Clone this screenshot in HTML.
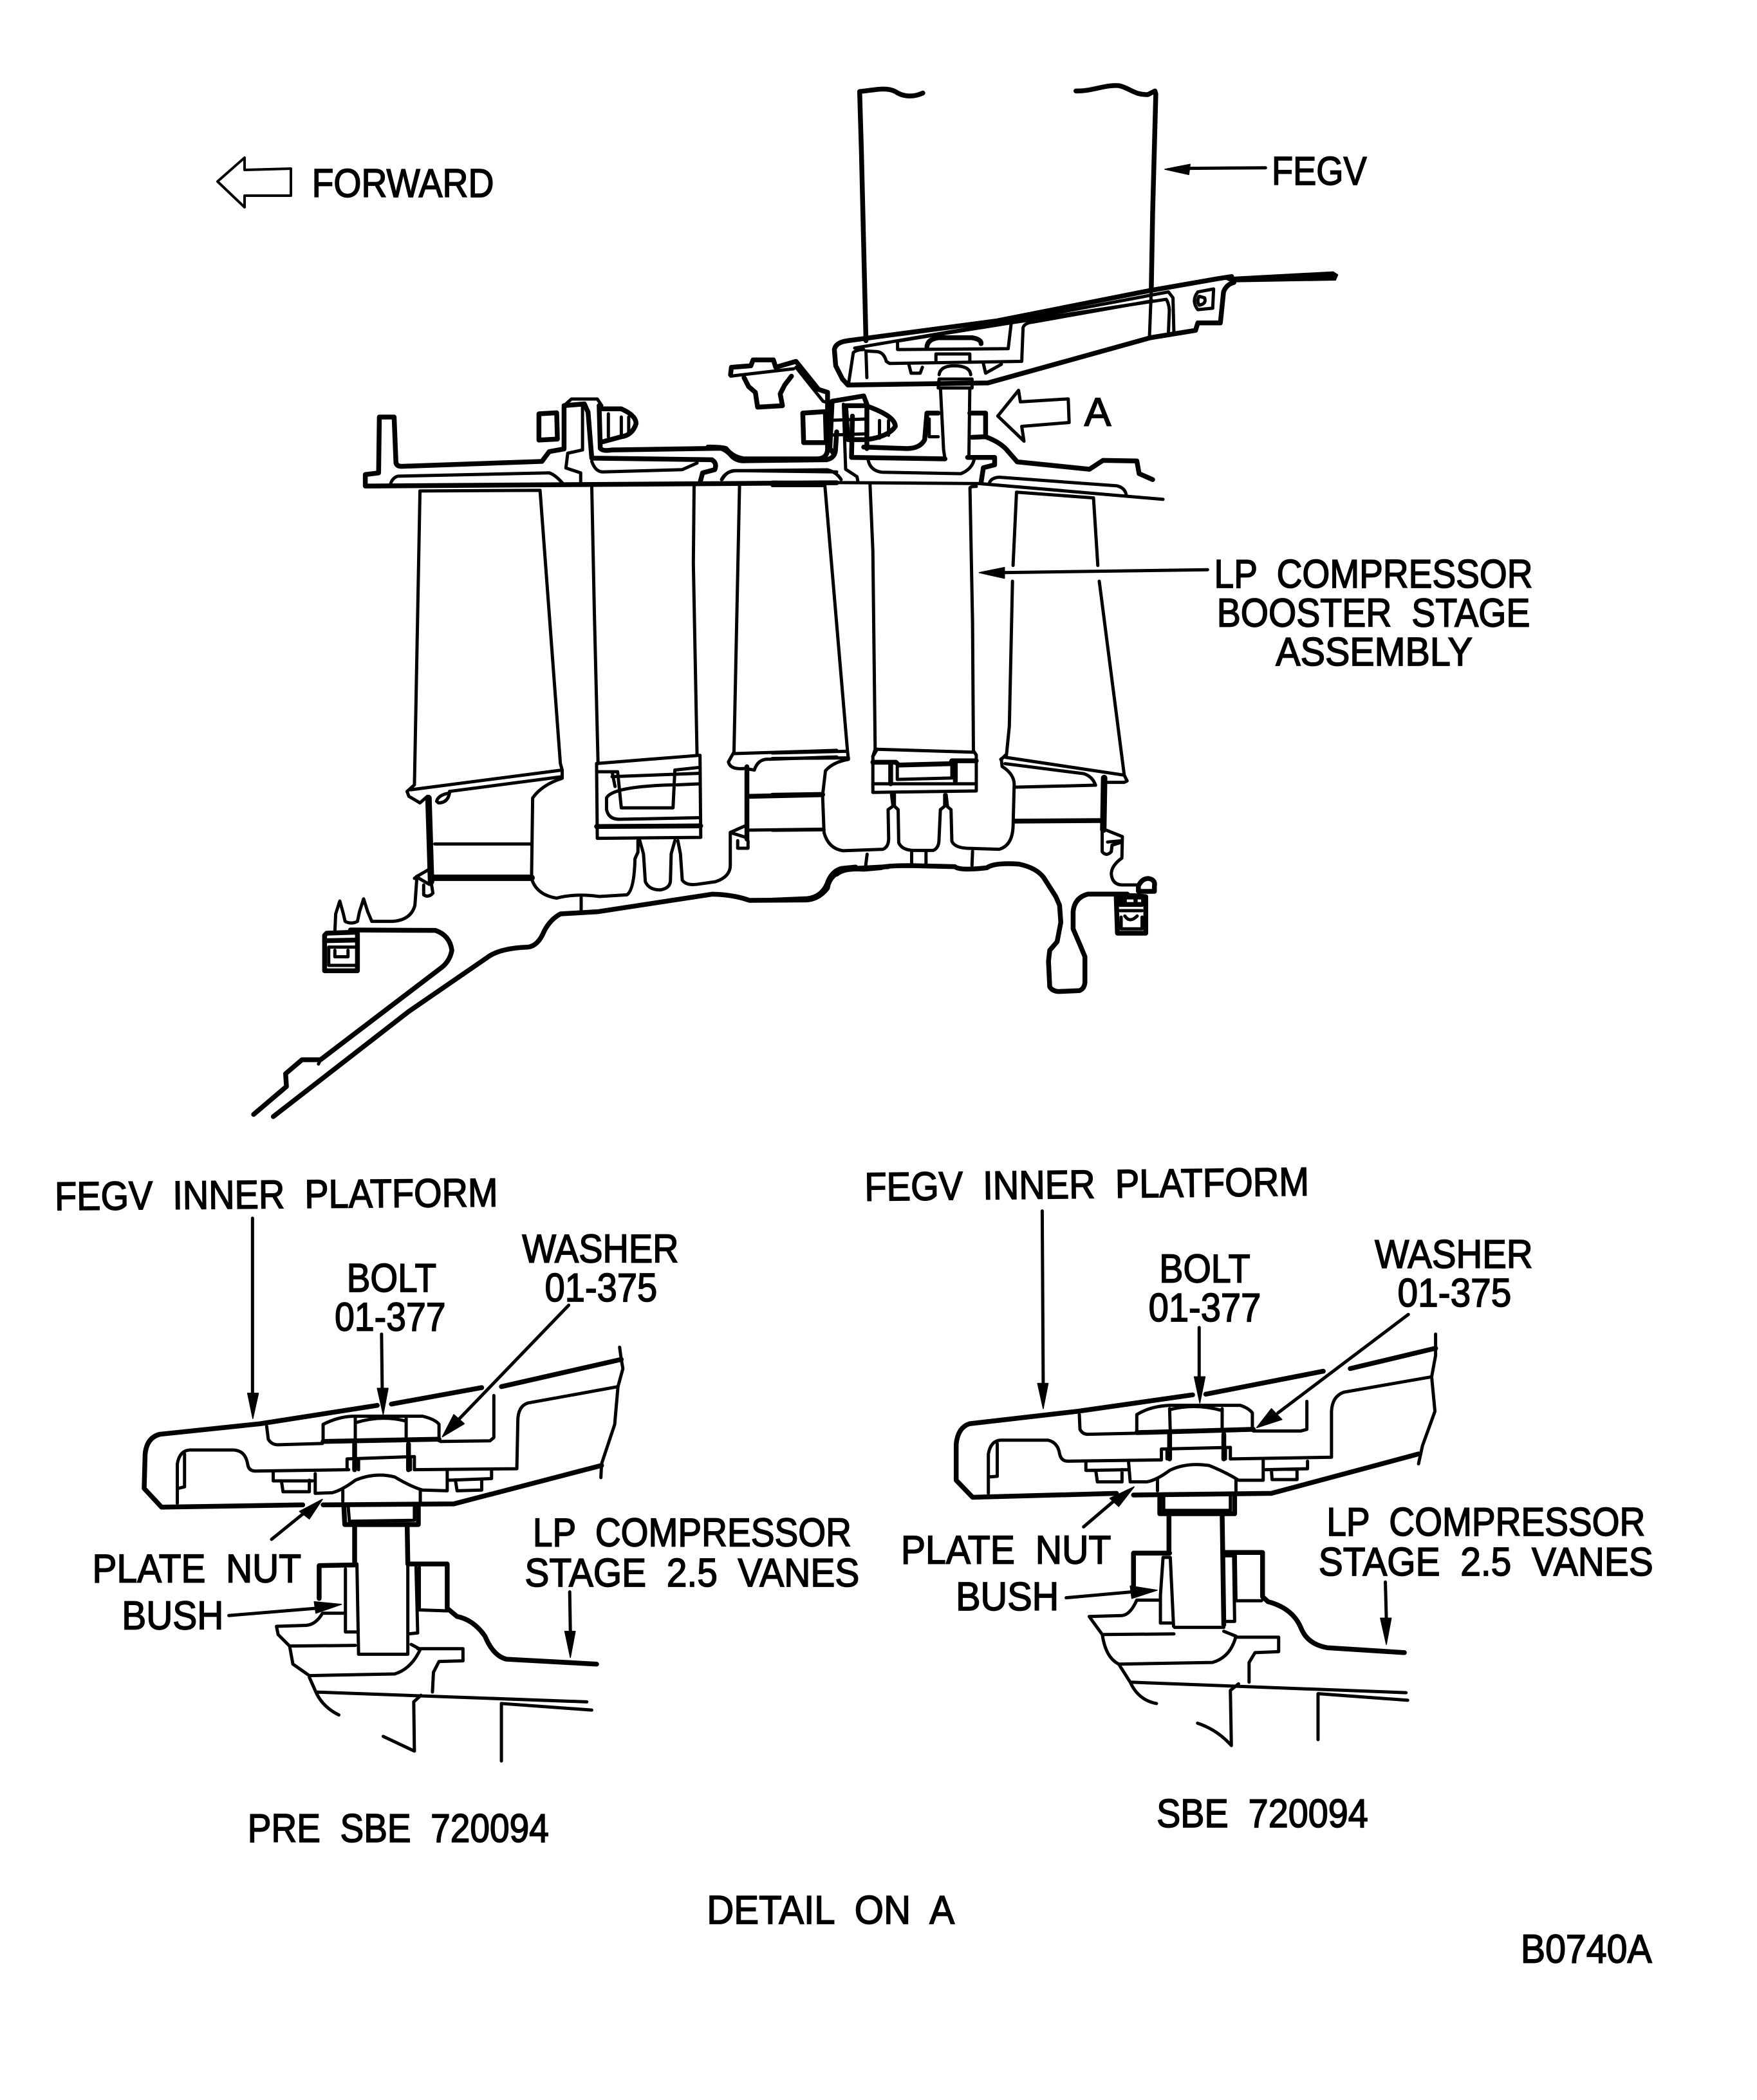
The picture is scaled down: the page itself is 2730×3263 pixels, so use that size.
<!DOCTYPE html>
<html><head><meta charset="utf-8"><style>
html,body{margin:0;padding:0;background:#fff}
svg{display:block}
path{fill:none;stroke:#000;stroke-width:5;stroke-linejoin:round;stroke-linecap:round;vector-effect:non-scaling-stroke}
.t{stroke-width:4}.k{stroke-width:7.5}.x{stroke-width:10}
.f{fill:#000;stroke-width:1.5}
.w{fill:#fff;stroke:none}
text{font-family:"Liberation Sans",sans-serif;font-size:30px;fill:#000;stroke:#000;stroke-width:.8;white-space:pre}
</style></head><body>
<svg width="2730" height="3263" viewBox="0 0 2730 3263" xmlns="http://www.w3.org/2000/svg">
<rect width="2730" height="3263" fill="#fff"/>
<path class="t" d="M338 282 L380 245 L380 264 L452 262 L452 304 L380 304 L380 322 Z" />
<g transform="translate(1100,100) scale(.7015,.4592)">
<path class="k" d="M476 97 C455 112 432 110 415 92 C395 75 365 88 336 92 L340 300 L350 935"/>
<path class="k" d="M815 90 C850 92 880 68 910 72 C935 80 945 105 975 102 L990 90 L992 100 L985 500 L982 760"/>
<path d="M982 760 L978 920"/>
<path class="k" d="M310 1085 L298 1065 L283 1020 L280 965 Q283 940 310 935 L640 868 L980 765 L1130 725 L1160 718"/>
<path class="f" d="M1160 736 L1390 730 L1395 712 L1385 702 L1140 722 Z"/>
<path d="M325 960 L670 870 L1020 770 L1030 790 L1032 905"/>
<path d="M425 935 L670 875 L1015 795 Q1020 805 1022 830 L1020 905"/>
<path class="k" d="M310 1085 L620 1078 L980 925 L1080 900 L1085 875 L1135 875 L1142 770 Q1148 745 1165 738"/>
<path d="M312 1075 L322 975 Q330 965 345 965 M352 1060 L350 970 L375 972 Q390 975 395 1005 L402 1012 L695 1005 L698 890 Q702 875 720 872 L985 800"/>
<path d="M420 940 L420 965 L665 962 L672 872"/>
<path class="k" d="M485 955 Q487 930 510 925 L585 925 Q605 930 605 945"/>
<path d="M505 1003 L505 980 L580 980 L580 1003 M445 1015 L450 1045 L470 1045 L475 1025 M610 1012 L615 1045 L650 1015"/>
<path d="M512 1050 Q515 1020 545 1020 Q580 1020 582 1050 M510 1095 L512 1065 L585 1065 L585 1095 L510 1095"/>
<path d="M515 1095 L522 1305 L525 1335 M580 1095 L578 1330"/>
<path d="M688 1103 L642 1190 L700 1275 L695 1225 L800 1212 L798 1132 L692 1142 Z"/>
<path d="M1235 350 L1060 352"/><path class="f" d="M1012 355 L1068 338 L1065 373 Z"/>
<path d="M1085 770 L1120 760 L1118 825 L1085 830 Q1070 800 1085 770 M1088 785 Q1082 800 1088 815 Q1105 810 1100 790 Z"/>
<path class="k" d="M50 1050 L52 1025 L95 1020 L100 1000 L145 1000 L150 1025 L195 1005 L245 1100 L265 1110 L265 1300 Q265 1335 240 1335 L80 1335 Q55 1330 40 1300 Q30 1295 0 1295"/>
<path d="M195 1025 L255 1140 L265 1145 M50 1055 L190 1030"/>
<path class="k" d="M80 1060 L90 1090 L105 1110 L110 1160 L165 1155 L160 1115 L170 1085 L185 1055"/>
<path class="k" d="M210 1180 L260 1175 L262 1280 L212 1280 Z"/>
<path class="k" d="M275 1140 L345 1122 L352 1150 L352 1300 M275 1140 L270 1300 L280 1320"/>
<path class="k" d="M305 1155 L350 1155 Q415 1190 415 1225 Q400 1260 350 1270 L310 1270 Z"/>
<path d="M262 1205 L352 1200 M262 1255 L352 1250 M380 1205 L380 1265 M400 1205 L400 1255"/>
<path class="k" d="M510 1180 L485 1180 L480 1270 Q470 1300 440 1300 L345 1295"/>
<path d="M490 1200 L490 1260 L510 1260"/>
<path class="k" d="M580 1180 L615 1180 L615 1260 L585 1262 M615 1260 Q650 1280 665 1310 L685 1345 L845 1370 L875 1340 L950 1342 L955 1385 L985 1405"/>
<path class="k" d="M320 1190 L318 1330 L525 1335 M575 1330 L635 1330 L635 1355 L610 1365 L605 1415"/>
<path d="M355 1340 Q360 1375 385 1380 L560 1385 Q585 1370 590 1335 M300 1150 L305 1370 L330 1395 L332 1410"/>
<path d="M30 1405 Q40 1375 65 1375 L265 1372 Q285 1380 295 1405"/>
</g>
<g transform="translate(400,620) scale(.574,.5102)">
<path class="k" d="M330 55 L370 55 L375 195 Q378 205 390 205 L770 190 L790 160 L830 152 L830 25 M330 55 L328 225 L292 230 L292 265 L1568 255"/>
<path d="M360 260 Q365 240 380 235 L790 225 Q805 230 825 255"/>
<path class="k" d="M762 45 L810 42 L812 122 L762 125 Z"/>
<path class="k" d="M830 20 L885 15 L895 40 L905 180 L1230 185 Q1245 195 1238 215 L1205 225 L1198 255"/>
<path d="M830 20 L850 0 L920 0 L932 20"/>
<path d="M880 25 L880 155 L840 165 L835 210 L875 225 L875 255"/>
<path d="M905 190 Q915 222 935 222 L1150 215 L1190 195"/>
<path class="k" d="M925 20 L928 150 Q935 160 960 155 L1255 150 Q1270 155 1285 175 Q1300 190 1320 188 L1540 185 Q1565 180 1565 150 L1568 100"/>
<path class="k" d="M935 30 L985 30 Q1025 50 1025 75 Q1015 110 985 115 L935 130"/>
<path d="M950 45 L950 115 M985 55 L985 110 M1005 55 L1005 105"/>
<path d="M1258 245 Q1270 220 1290 218 L1568 222"/>
<path d="M440 280 L765 278 L820 1110 L825 1130 L825 1155 Q770 1175 745 1215 L742 1460 Q755 1510 810 1520 Q860 1505 925 1515 L1000 1510 Q1020 1495 1022 1400 L1030 1380 L1030 1345"/>
<path d="M440 280 L425 1175 L405 1195 L410 1210 L440 1230 L460 1210"/>
<path d="M415 1190 L825 1130 M520 1195 L825 1150 M485 1225 Q490 1205 520 1200 Q515 1230 490 1230 Z"/>
<path class="x" d="M463 1215 L470 1470"/>
<path d="M480 1355 L740 1355"/><path class="x" d="M475 1458 L742 1458"/>
<path d="M465 1432 L430 1455 L425 1460 M430 1455 L465 1478 M450 1480 L450 1510 Q462 1520 475 1505 L470 1470"/>
<path d="M905 265 L912 650 L922 1110 M1182 265 L1180 500 L1190 1085"/>
<path d="M918 1110 L1198 1085 L1200 1335 L920 1338 Z"/>
<path class="k" d="M918 1302 L1200 1300"/>
<path d="M920 1135 L975 1135 L985 1245 L1125 1245 L1130 1130 L1195 1122 M960 1150 L1195 1140 M960 1135 L968 1180 M1125 1175 Q960 1180 945 1215 L945 1250 Q950 1280 980 1280 L1197 1275 M1135 1175 L1195 1172"/>
<path d="M1035 1345 L1045 1385 L1050 1470 Q1060 1495 1090 1495 Q1118 1490 1118 1465 L1120 1385 L1130 1345"/>
<path d="M1138 1345 L1145 1385 L1150 1465 Q1160 1482 1190 1478 L1240 1470 Q1280 1455 1280 1420 L1280 1320 L1320 1300 M1285 1322 L1322 1335 M1300 1345 L1300 1368 L1328 1368 L1328 1345"/>
<path class="k" d="M1325 1120 L1325 1340"/>
<path class="k" d="M1330 1210 L1530 1205"/><path d="M1330 1313 L1530 1310"/>
<path d="M1305 265 L1290 1075 L1275 1105 Q1280 1130 1320 1125 L1345 1130 Q1355 1095 1385 1097 L1568 1090 M1290 1080 L1568 1070"/>
</g>
<g transform="translate(1200,700) scale(.4464)">
<path d="M0 122 L183 122 L262 1050 L265 1075 Q210 1085 185 1115 L175 1200 L180 1330 Q195 1385 245 1393 L385 1388 Q405 1380 405 1350 L403 1250 L420 1238 L415 1198"/>
<path d="M0 1053 L255 1047 M0 1072 L265 1070"/>
<path class="k" d="M0 1200 L175 1197"/><path d="M0 1322 L180 1320"/>
<path d="M425 1198 L425 1238 L438 1250 L440 1365 Q450 1390 490 1392 L560 1392 Q578 1385 580 1360 L585 1250 L600 1238 L600 1198"/>
<path d="M605 1198 L610 1240 L622 1250 L625 1360 Q635 1385 690 1385 L790 1388 Q835 1375 838 1310 L842 1160 Q840 1125 800 1100 L797 1075 L812 1060"/>
<path d="M340 115 L350 350 L358 1040 L350 1065 L350 1190 L710 1185 L710 1060 L700 1045 L697 600 L688 130 Q690 125 710 125"/>
<path d="M365 1040 L700 1050 M350 1065 L365 1040"/>
<path class="k" d="M350 1085 L430 1085 L440 1095 L620 1090 L625 1080 L710 1080"/>
<path d="M350 1160 L710 1160"/>
<path class="k" d="M412 1090 L412 1160"/>
<path d="M435 1100 L435 1145 L625 1140 L625 1095"/><path class="k" d="M637 1085 L637 1150"/>
<path d="M330 1405 L325 1445 M485 1400 L485 1440 M535 1398 L535 1440 M697 1395 L695 1445"/>
<path class="k" d="M0 1565 L120 1560 Q170 1555 190 1510 Q205 1465 240 1455 L290 1450"/>
<path d="M850 145 L1118 165 L1133 400 M1138 455 L1225 1130 L1235 1150 L1225 1155 L1165 1155 M850 145 L838 400 M836 455 L825 960 L815 1060 L795 1075"/>
<path d="M812 1068 L1225 1130 M810 1090 L1085 1125 Q1115 1135 1125 1165"/>
<path d="M845 1172 L1125 1165"/><path class="k" d="M845 1290 L1145 1288"/>
<path class="x" d="M1155 1140 L1152 1320"/>
<path d="M755 115 Q760 95 790 93 L1200 123 Q1228 130 1232 155"/>
<path d="M0 110 L720 115 L1360 170"/>
<path d="M1515 415 L800 425"/><path class="f" d="M720 425 L808 407 L808 445 Z"/>
</g>
<g transform="translate(1300,1100) scale(.3827,.3333)">
<path class="k" d="M0 775 Q30 745 110 752 L180 745 Q200 735 300 735 L480 740 Q500 760 610 745 Q640 720 740 728 Q810 745 840 790 L890 880 L905 920 L910 1000 L895 1090 L865 1130 L860 1180 L865 1300 Q875 1320 900 1322 L985 1318 Q1005 1310 1008 1280 L1008 1160 L990 1110 L960 1030 L960 950 Q965 885 1020 868 L1180 868"/>
<path class="k" d="M1135 880 L1140 1050 L1255 1050 L1255 880 Q1200 870 1135 880"/>
<path class="f" d="M1138 872 L1258 872 L1258 915 L1138 915 Z"/>
<path class="w" d="M1178 893 L1205 893 L1205 905 L1178 905 Z M1222 893 L1236 893 L1236 905 L1222 905 Z"/>
<path d="M1150 920 L1240 920 M1150 945 L1240 945 M1155 975 L1155 1030 L1240 1030 L1240 975 M1170 970 Q1190 1005 1220 970"/>
<path class="k" d="M1225 830 Q1240 795 1265 795 Q1295 800 1290 830 L1290 855 L1225 855 Z"/>
<path d="M1095 570 L1160 600 L1158 700 Q1115 735 1115 775 Q1120 825 1160 825 L1225 825 M1078 570 L1078 670 Q1095 695 1115 670 L1118 640 L1158 625 M1100 625 L1150 620"/>
</g>
<g transform="translate(380,1300) scale(.6378,.3333)">
<path class="k" d="M1568 140 L1470 150 Q1425 170 1420 240 Q1400 290 1370 295 L1230 297 Q1190 270 1140 268 L860 350 L770 360 Q745 385 730 440 Q715 510 690 515 Q620 520 590 565 L400 815 L70 1305"/>
<path class="k" d="M258 435 L465 437 Q500 460 505 530 Q500 580 480 610 L185 1040 L140 1040 L100 1105 L102 1165 L22 1295"/>
<path d="M820 285 L820 350 M180 1060 L185 1040"/>
<path d="M420 185 L415 320 Q405 390 360 395 L310 395 L300 350 L290 290 L280 350 L275 395 Q260 410 245 395 L240 355 L232 300 L222 360 L220 445"/>
<path class="k" d="M195 460 L195 625 L275 625 L275 445 L200 450 Z"/>
<path class="k" d="M195 485 L275 482"/>
<path d="M205 515 L270 515 M205 520 L205 600 L270 600 M220 530 L220 560 L252 560 L252 530"/>
</g>
<g transform="translate(200,2050) scale(.5102)">
<path d="M377 -308 L377 225"/><path class="f" d="M378 302 L362 225 L395 225 Z"/>
<path d="M770 45 L772 210"/><path class="f" d="M775 290 L757 210 L790 210 Z"/>
<path d="M1340 -43 L1000 310"/><path class="f" d="M955 358 L990 290 L1022 318 Z"/>
<path class="k" d="M1075 208 L800 258 M757 262 L400 318 L95 350 Q55 360 50 410 L47 515 L100 572 L530 565 M1135 205 L1500 122"/>
<path d="M1500 122 L1505 150 L1490 205 L1480 320 L1440 440 L1438 482 M1495 85 L1500 122"/>
<path class="k" d="M592 565 L990 562 L1440 445"/>
<path d="M1112 232 L1112 360 L1100 370 L950 372 M420 325 L425 365 Q435 382 455 382 L590 378"/>
<path d="M1490 205 L1215 255 Q1185 265 1185 310 L1182 455 L870 458"/>
<path d="M148 560 L148 440 Q155 400 185 398 L320 398 Q355 400 362 440 Q365 462 385 462 L670 458 M150 515 L170 510 L170 410"/>
<path d="M592 375 L592 320 Q640 295 690 295 L895 295 Q935 305 945 320 L945 370"/><path class="k" d="M592 372 L945 365"/>
<path d="M690 300 L690 375 M845 300 L845 370 M690 315 Q770 290 845 310"/>
<path class="k" d="M688 380 L688 458 M852 380 L852 458"/>
<path d="M665 425 L870 418 M665 425 L665 458 M870 418 L870 458 M700 425 L700 458 M858 425 L858 458"/>
<path d="M440 465 L440 492 L560 492 M465 492 L470 525 L550 525 L550 490 M1105 460 L1105 485 L975 490 M995 490 L1000 522 L1075 520 L1075 488"/>
<path d="M568 470 L568 530 L620 528 Q650 520 690 490 Q750 465 810 480 Q860 510 895 520 L970 522 L970 460"/>
<path d="M652 555 L652 520 M888 555 L888 520"/>
<path class="k" d="M655 565 L658 625 L882 625 L882 565"/>
<path d="M668 565 L672 615 L870 612 L870 565"/>
<path class="k" d="M688 625 L688 745 M848 625 L850 745"/>
<path d="M695 745 L700 1020 L850 1020 L850 745"/>
<path class="k" d="M580 850 L580 750 L688 748 M852 745 L970 745 L970 880 L1000 905 Q1050 915 1085 965 Q1110 1025 1150 1035 L1425 1050"/>
<path d="M660 760 L660 952 L695 952 M875 755 L880 955 L852 958 M885 755 L885 885 L970 888"/>
<path d="M660 895 L590 895 Q570 930 540 932 L450 935 L455 960 L490 995 L690 993 M490 995 L500 1050 L550 1085 L810 1080 Q860 1065 888 1005 L860 990 M880 1003 L1018 1003 L1018 1040 L945 1042 L928 1075 L925 1135 M550 1090 L570 1135 L1395 1165 M570 1135 Q590 1180 640 1205 M890 1145 L868 1165 L870 1315 L775 1270 M1135 1345 L1135 1170 L1410 1190"/>
<path d="M435 670 L540 585"/><path class="f" d="M590 548 L520 585 L550 608 Z"/>
<path d="M305 902 L570 880"/><path class="f" d="M648 868 L565 860 L570 895 Z"/>
<path d="M1343 830 L1345 950"/><path class="f" d="M1345 1030 L1328 950 L1360 950 Z"/>
</g>
<g transform="translate(1450,2050) scale(.5102)">
<path d="M332 -330 L335 195"/><path class="f" d="M335 272 L318 195 L350 195 Z"/>
<path d="M810 25 L810 175"/><path class="f" d="M812 255 L795 175 L828 175 Z"/>
<path d="M1447 -15 L1050 285"/><path class="f" d="M985 330 L1030 272 L1062 305 Z"/>
<path class="k" d="M1188 158 L830 228 M790 230 L440 280 L110 318 Q75 330 70 380 L70 490 L120 542 L558 530 M1270 150 L1530 88"/>
<path d="M1530 88 L1530 110 L1518 175 L1528 280 L1490 385 L1478 440 M1530 45 L1530 90"/>
<path class="k" d="M610 535 L1030 530 L1478 410"/>
<path d="M1138 250 L1138 335 L1120 340 L975 340 M445 290 L447 335 Q455 350 470 350 L615 347"/>
<path d="M1518 175 L1250 222 Q1215 235 1213 280 L1213 420 L905 425"/>
<path d="M168 530 L168 410 Q175 370 205 368 L350 368 Q380 375 385 410 Q390 432 410 432 L695 428 M170 480 L195 478 L195 378"/>
<path d="M620 345 L620 290 Q660 265 720 262 L935 262 Q960 270 972 285 L972 338"/><path class="k" d="M620 345 L975 335"/>
<path d="M720 272 L722 345 M880 272 L880 340 M720 275 Q800 255 880 278"/>
<path class="k" d="M720 350 L720 425 M885 350 L885 425"/>
<path d="M695 395 L905 390 L905 425 M695 395 L695 428 M712 395 L712 425 M890 395 L890 425"/>
<path d="M465 435 L465 460 L595 458 M495 460 L500 495 L575 495 L575 458 M1140 432 L1140 455 L1012 458 M1030 458 L1032 488 L1108 488 L1108 458"/>
<path d="M595 435 L600 495 L650 495 Q680 490 720 460 Q770 435 840 445 Q890 465 930 490 L1005 490 L1005 430"/>
<path d="M683 522 L683 485 M922 522 L922 488"/>
<path class="k" d="M690 535 L690 592 L918 592 L918 535"/>
<path d="M702 535 L702 582 L905 582 L905 535"/>
<path class="k" d="M718 595 L718 710 M880 595 L885 930"/>
<path class="k" d="M610 825 L610 712 L720 712 M888 710 L1003 710 L1003 845 L1020 860 Q1095 880 1120 940 Q1140 990 1200 1000 L1435 1015"/>
<path d="M700 725 L722 725 L732 935 M700 725 L692 840 L692 925 L730 925 M735 938 L885 938 M890 720 L915 720 L918 920 L890 920 M920 720 L922 857 L1000 857"/>
<path d="M690 855 L620 855 Q600 900 575 902 L475 905 L515 960 L733 958 M515 960 Q525 1030 565 1050 L850 1045 Q905 1030 922 965 L885 950 M920 968 L1052 968 L1052 1012 L980 1015 L962 1045 L962 1105 M565 1050 L600 1105 L1440 1137 M600 1105 Q625 1160 680 1170 M930 1110 L905 1130 L908 1298 Q865 1250 805 1230 M1172 1280 L1172 1140 L1445 1160"/>
<path d="M458 632 L560 545"/><path class="f" d="M612 510 L538 545 L565 570 Z"/>
<path d="M405 848 L605 830"/><path class="f" d="M682 825 L600 812 L605 850 Z"/>
<path d="M1377 800 L1380 910"/><path class="f" d="M1380 990 L1362 910 L1395 910 Z"/>
</g>
<g transform="scale(2.08)">
<text x="233" y="147" textLength="136" lengthAdjust="spacingAndGlyphs">FORWARD</text>
<text x="950" y="138" textLength="71" lengthAdjust="spacingAndGlyphs">FEGV</text>
<text x="810" y="318" textLength="20" lengthAdjust="spacingAndGlyphs">A</text>
<text x="907" y="439" textLength="238" lengthAdjust="spacingAndGlyphs">LP  COMPRESSOR</text>
<text x="909" y="468" textLength="234" lengthAdjust="spacingAndGlyphs">BOOSTER  STAGE</text>
<text x="953" y="497" textLength="147" lengthAdjust="spacingAndGlyphs">ASSEMBLY</text>
<text x="41" y="904" textLength="331" lengthAdjust="spacingAndGlyphs" transform="rotate(-.5 41 904)">FEGV  INNER  PLATFORM</text>
<text x="259" y="965" textLength="67" lengthAdjust="spacingAndGlyphs">BOLT</text>
<text x="250" y="994" textLength="83" lengthAdjust="spacingAndGlyphs">01-377</text>
<text x="390" y="943" textLength="117" lengthAdjust="spacingAndGlyphs">WASHER</text>
<text x="407" y="972" textLength="84" lengthAdjust="spacingAndGlyphs">01-375</text>
<text x="69" y="1182" textLength="156" lengthAdjust="spacingAndGlyphs">PLATE  NUT</text>
<text x="91" y="1217" textLength="76" lengthAdjust="spacingAndGlyphs">BUSH</text>
<text x="398" y="1155" textLength="238" lengthAdjust="spacingAndGlyphs">LP  COMPRESSOR</text>
<text x="392" y="1185" textLength="250" lengthAdjust="spacingAndGlyphs">STAGE  2.5  VANES</text>
<text x="185" y="1376" textLength="225" lengthAdjust="spacingAndGlyphs">PRE  SBE  720094</text>
<text x="528" y="1437" textLength="185" lengthAdjust="spacingAndGlyphs">DETAIL  ON  A</text>
<text x="1136" y="1466" textLength="98" lengthAdjust="spacingAndGlyphs">B0740A</text>
<text x="646" y="897" textLength="332" lengthAdjust="spacingAndGlyphs" transform="rotate(-.7 646 897)">FEGV  INNER  PLATFORM</text>
<text x="866" y="958" textLength="68" lengthAdjust="spacingAndGlyphs">BOLT</text>
<text x="858" y="987" textLength="84" lengthAdjust="spacingAndGlyphs">01-377</text>
<text x="1027" y="947" textLength="118" lengthAdjust="spacingAndGlyphs">WASHER</text>
<text x="1044" y="976" textLength="85" lengthAdjust="spacingAndGlyphs">01-375</text>
<text x="673" y="1168" textLength="157" lengthAdjust="spacingAndGlyphs">PLATE  NUT</text>
<text x="714" y="1203" textLength="77" lengthAdjust="spacingAndGlyphs">BUSH</text>
<text x="991" y="1147" textLength="238" lengthAdjust="spacingAndGlyphs">LP  COMPRESSOR</text>
<text x="985" y="1177" textLength="250" lengthAdjust="spacingAndGlyphs">STAGE  2.5  VANES</text>
<text x="864" y="1365" textLength="158" lengthAdjust="spacingAndGlyphs">SBE  720094</text>
</g>
</svg>
</body></html>
